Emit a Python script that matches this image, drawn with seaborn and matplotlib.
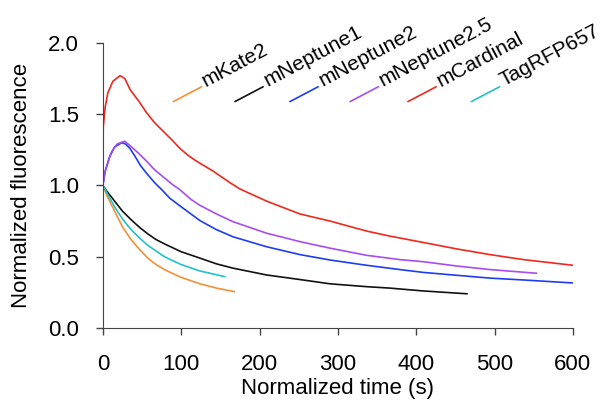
import numpy as np
import pandas as pd
import seaborn as sns
import matplotlib.pyplot as plt
from matplotlib.lines import Line2D

# values (time in s, normalized fluorescence)
proteins = ["mKate2", "mNeptune1", "mNeptune2", "mNeptune2.5", "mCardinal", "TagRFP657"]
colors = ["#f39036", "#111111", "#1f3cf5", "#a64df0", "#f0281e", "#22c2c6"]

mkate2_t = [0, 5, 15, 25, 36, 47, 57.4, 68, 78.7, 90, 100, 124, 145, 168]
mkate2_v = [1.0, 0.93, 0.82, 0.71, 0.62, 0.55, 0.49, 0.445, 0.41, 0.38, 0.355, 0.31, 0.28, 0.255]

mneptune1_t = [0, 5, 15, 25, 36, 47, 57.4, 68, 78.7, 100, 124, 145, 166, 209, 251.5, 290, 336.6, 366, 409, 465]
mneptune1_v = [1.0, 0.96, 0.89, 0.82, 0.76, 0.705, 0.66, 0.62, 0.59, 0.535, 0.49, 0.45, 0.42, 0.372, 0.34, 0.31, 0.29, 0.28, 0.26, 0.24]

mneptune2_t = [0, 3, 8.5, 15, 24.3, 29, 34.5, 40.4, 48, 55.8, 66, 77, 85.5, 100, 124, 145, 166, 209, 251.5, 290, 336.6, 379, 409, 451.5, 494, 536.6, 600]
mneptune2_v = [1.0, 1.10, 1.20, 1.27, 1.30, 1.29, 1.26, 1.21, 1.14, 1.085, 1.02, 0.96, 0.91, 0.85, 0.753, 0.69, 0.64, 0.57, 0.515, 0.477, 0.44, 0.41, 0.39, 0.37, 0.35, 0.337, 0.316]

mneptune25_t = [0, 3, 10.6, 18, 27.7, 34.5, 44.7, 55.8, 66, 77, 88, 98.3, 113, 124, 145, 166, 209, 251.5, 290, 336.6, 379, 409, 451.5, 494, 553.6]
mneptune25_v = [1.0, 1.10, 1.23, 1.29, 1.31, 1.28, 1.23, 1.17, 1.11, 1.06, 1.01, 0.97, 0.90, 0.86, 0.80, 0.746, 0.665, 0.606, 0.56, 0.51, 0.48, 0.465, 0.435, 0.41, 0.384]

mcardinal_t = [0, 0.5, 3, 6.4, 12.8, 22, 28, 35, 46, 55.8, 66, 77, 88, 98.3, 109, 119.6, 140.8, 162, 175, 209, 251.5, 290, 336.6, 366, 409, 451.5, 494, 536.6, 600]
mcardinal_v = [1.0, 1.41, 1.55, 1.65, 1.73, 1.77, 1.75, 1.67, 1.59, 1.51, 1.44, 1.38, 1.32, 1.26, 1.21, 1.17, 1.10, 1.02, 0.975, 0.89, 0.80, 0.75, 0.68, 0.645, 0.60, 0.555, 0.515, 0.48, 0.44]

tagrfp657_t = [0, 5, 15, 25, 36, 47, 57.4, 68, 78.7, 90, 100, 124, 140, 155.7]
tagrfp657_v = [1.0, 0.95, 0.85, 0.765, 0.69, 0.63, 0.58, 0.54, 0.50, 0.47, 0.445, 0.40, 0.38, 0.36]

series = {
    "mKate2": (mkate2_t, mkate2_v),
    "mNeptune1": (mneptune1_t, mneptune1_v),
    "mNeptune2": (mneptune2_t, mneptune2_v),
    "mNeptune2.5": (mneptune25_t, mneptune25_v),
    "mCardinal": (mcardinal_t, mcardinal_v),
    "TagRFP657": (tagrfp657_t, tagrfp657_v),
}

x_ticks = [0, 100, 200, 300, 400, 500, 600]
y_ticks = [0.0, 0.5, 1.0, 1.5, 2.0]

rows = []
for name, (t, v) in series.items():
    for ti, vi in zip(t, v):
        rows.append({"protein": name, "time": ti, "value": vi})
df = pd.DataFrame(rows)

sns.set_style("ticks")
plt.rcParams["font.family"] = ["Liberation Sans", "DejaVu Sans"]
plt.rcParams["text.color"] = "black"
plt.rcParams["axes.labelcolor"] = "black"
plt.rcParams["xtick.labelcolor"] = "black"
plt.rcParams["ytick.labelcolor"] = "black"

fig = plt.figure(figsize=(6.05, 4.2), dpi=100)
ax = fig.add_axes([0.170, 0.219, 0.777, 0.679])

sns.lineplot(data=df, x="time", y="value", hue="protein", hue_order=proteins,
             palette=colors, estimator=None, sort=False, legend=False,
             linewidth=1.2, ax=ax)

ax.set_xlim(0, 600)
ax.set_ylim(0, 2.0)
ax.set_xticks(x_ticks)
ax.set_yticks(y_ticks)
ax.set_yticklabels([f"{y:.1f}" for y in y_ticks])
ax.set_xlabel("Normalized time (s)", fontsize=16, labelpad=2)
ax.set_ylabel("Normalized fluorescence", fontsize=16, labelpad=12)
ax.tick_params(labelsize=16, length=5, width=1, color="#444444")
ax.tick_params(axis="x", pad=14)
ax.tick_params(axis="y", pad=12)
for s in ["top", "right"]:
    ax.spines[s].set_visible(False)
for s in ["left", "bottom"]:
    ax.spines[s].set_color("#444444")

# diagonal legend: short segment + rotated label
leg_x0 = [0.150, 0.281, 0.398, 0.526, 0.649, 0.784]
seg_dx, seg_dy = 0.060, 0.052
leg_y0 = 0.794
for name, c, x0 in zip(proteins, colors, leg_x0):
    ax.add_line(Line2D([x0, x0 + seg_dx], [leg_y0, leg_y0 + seg_dy],
                       transform=ax.transAxes, color=c, lw=1.2, clip_on=False))
    ax.text(x0 + seg_dx + 0.009, leg_y0 + seg_dy, name, transform=ax.transAxes,
            rotation=28, rotation_mode="anchor", ha="left", va="baseline",
            fontsize=15)

fig.savefig("out.png", dpi=100)
